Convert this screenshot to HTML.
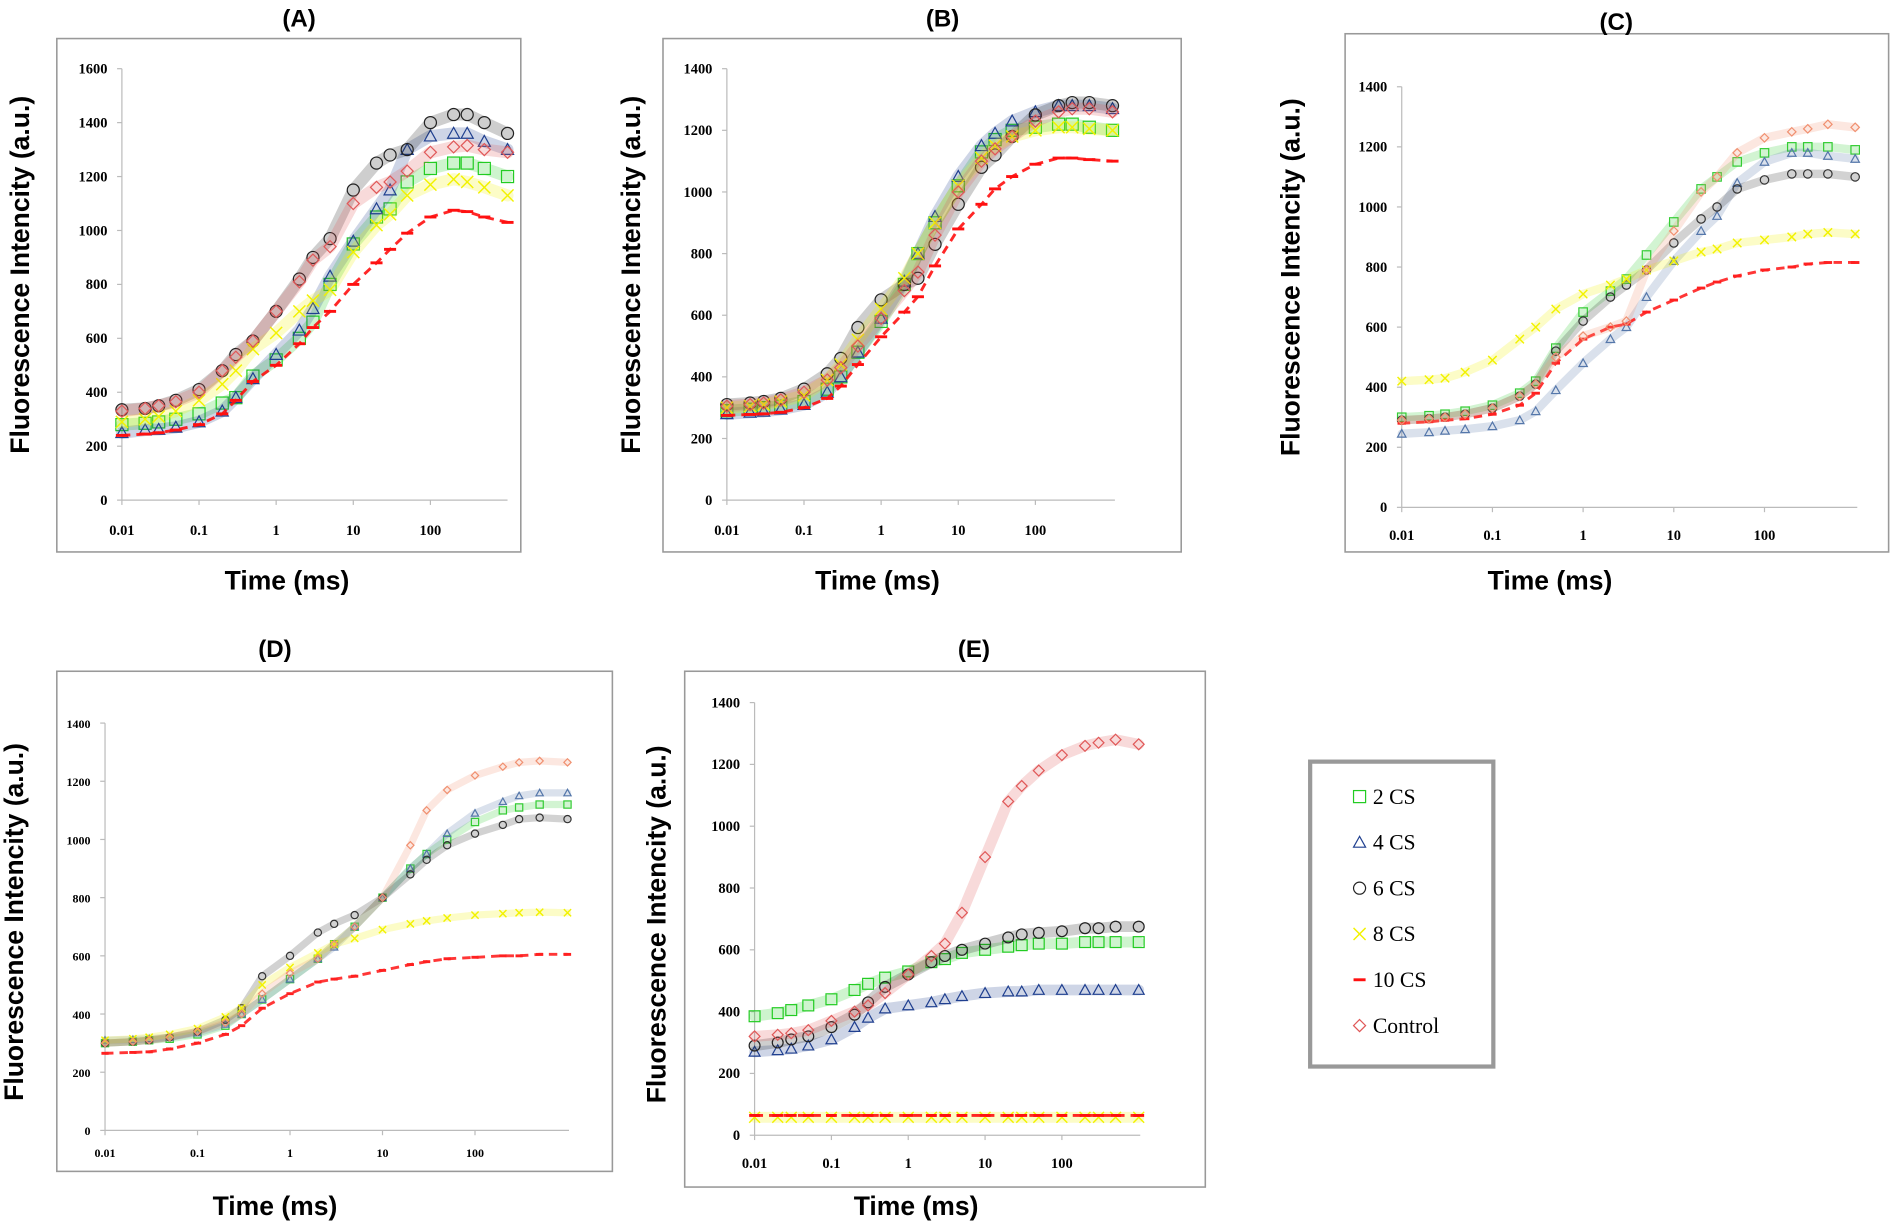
<!DOCTYPE html>
<html><head><meta charset="utf-8"><style>
html,body{margin:0;padding:0;background:#fff;}
svg{display:block;}
</style></head><body>
<svg id="fig" width="1890" height="1222" viewBox="0 0 1568 1014" xmlns="http://www.w3.org/2000/svg"></svg>
<script>
// shared sample times (ms)
const times = [0.01,0.02,0.03,0.05,0.1,0.2,0.3,0.5,1,2,3,5,10,20,30,50,100,200,300,500,1000];
const xTickLabels = ["0.01","0.1","1","10","100"];
const xTickValues = [0.01,0.1,1,10,100];
const seriesNames = ["2 CS","4 CS","6 CS","8 CS","10 CS","Control"];

// Panel A
const A_cs2 = [280,285,290,300,320,360,380,460,520,600,660,800,950,1050,1080,1180,1230,1250,1250,1230,1200];
const A_cs4 = [250,260,262,270,290,330,380,450,540,630,710,830,960,1080,1150,1300,1350,1360,1360,1330,1300];
const A_cs6 = [335,340,350,370,410,480,540,590,700,820,900,970,1150,1250,1280,1300,1400,1430,1430,1400,1360];
const A_cs8 = [290,300,310,330,370,430,480,560,620,700,740,780,920,1020,1060,1130,1170,1190,1180,1160,1130];
const A_cs10 = [240,245,250,260,280,320,370,440,500,580,640,700,800,880,930,990,1050,1075,1070,1050,1030];
const A_ctrl = [330,340,350,365,400,480,530,590,700,810,890,940,1100,1160,1180,1220,1290,1310,1315,1300,1290];
const A_yTicks = [0,200,400,600,800,1000,1200,1400,1600];
// Panel B
const B_cs2 = [290,295,300,305,320,360,400,480,580,700,800,900,1020,1130,1170,1200,1210,1220,1220,1210,1200];
const B_cs4 = [280,285,288,295,310,350,400,480,590,710,800,920,1050,1150,1190,1230,1260,1280,1280,1280,1270];
const B_cs6 = [310,315,320,330,360,410,460,560,650,700,720,830,960,1080,1120,1180,1250,1280,1290,1290,1280];
const B_cs8 = [300,305,310,320,340,390,440,520,620,720,800,900,1020,1110,1150,1180,1200,1210,1210,1205,1200];
const B_cs10 = [275,278,280,285,300,330,370,440,530,610,660,760,880,960,1010,1050,1090,1110,1110,1105,1100];
const B_ctrl = [305,310,315,325,350,390,430,500,590,680,740,860,1000,1100,1140,1180,1230,1260,1270,1270,1260];
const B_yTicks = [0,200,400,600,800,1000,1200,1400];
// Panel C
const C_cs2 = [300,305,310,320,340,380,420,530,650,720,760,840,950,1060,1100,1150,1180,1200,1200,1200,1190];
const C_cs4 = [245,250,255,260,270,290,320,390,480,560,600,700,820,920,970,1080,1150,1180,1180,1170,1160];
const C_cs6 = [290,295,300,310,330,370,410,520,620,700,740,790,880,960,1000,1060,1090,1110,1110,1110,1100];
const C_cs8 = [420,425,430,450,490,560,600,660,710,740,760,790,820,850,860,880,890,900,910,915,910];
const C_cs10 = [280,285,290,295,310,340,380,480,560,600,610,650,690,730,750,770,790,800,810,815,815];
const C_ctrl = [290,295,300,310,330,370,410,500,570,600,620,790,920,1050,1100,1180,1230,1250,1260,1275,1265];
const C_yTicks = [0,200,400,600,800,1000,1200,1400];
// Panel D
const D_cs2 = [300,305,310,315,330,360,400,450,520,590,640,700,800,900,950,1000,1060,1100,1110,1120,1120];
const D_cs4 = [310,312,315,320,335,365,400,450,520,590,630,700,800,900,950,1020,1090,1130,1150,1160,1160];
const D_cs6 = [300,305,310,320,340,380,420,530,600,680,710,740,800,880,930,980,1020,1050,1070,1075,1070];
const D_cs8 = [310,315,320,330,350,390,420,500,560,610,640,660,690,710,720,730,740,745,748,750,748];
const D_cs10 = [265,268,270,280,300,330,360,420,470,510,520,530,550,570,580,590,595,600,600,605,605];
const D_ctrl = [300,305,310,320,340,370,400,470,540,590,640,700,800,980,1100,1170,1220,1250,1265,1270,1265];
const D_yTicks = [0,200,400,600,800,1000,1200,1400];
// Panel E
const E_cs2 = [385,395,405,420,440,470,490,510,530,560,570,590,600,610,615,620,620,625,625,625,625];
const E_cs4 = [270,275,280,290,310,350,380,410,420,430,440,450,460,465,465,470,470,470,470,470,470];
const E_cs6 = [290,300,310,320,350,390,430,480,520,560,580,600,620,640,650,655,660,670,670,675,675];
const E_cs8 = [58,58,58,58,58,58,58,58,58,58,58,58,58,58,58,58,58,58,58,58,58];
const E_cs10 = [64,64,64,64,64,64,64,64,64,64,64,64,64,64,64,64,64,64,64,64,64];
const E_ctrl = [320,325,330,340,370,400,420,460,520,580,620,720,900,1080,1130,1180,1230,1260,1270,1280,1265];
const E_yTicks = [0,200,400,600,800,1000,1200,1400];

const NS='http://www.w3.org/2000/svg';
const svg=document.getElementById('fig');
function mk(tag,attrs,parent){const e=document.createElementNS(NS,tag);for(const k in attrs)e.setAttribute(k,attrs[k]);(parent||svg).appendChild(e);return e;}
function txt(s,attrs,parent){const e=mk('text',attrs,parent);e.textContent=s;return e;}

function marker(g,kind,cx,cy,r,col){
  let e;
  if(kind===0){e=mk('rect',{x:cx-r,y:cy-r,width:2*r,height:2*r,fill:'none',stroke:col,'stroke-width':1},g);}
  else if(kind===1){e=mk('polygon',{points:`${cx},${cy-r} ${cx-r},${cy+r*0.8} ${cx+r},${cy+r*0.8}`,fill:'none',stroke:col,'stroke-width':1},g);}
  else if(kind===2){e=mk('circle',{cx:cx,cy:cy,r:r,fill:'none',stroke:col,'stroke-width':1},g);}
  else if(kind===3){e=mk('path',{d:`M${cx-r} ${cy-r}L${cx+r} ${cy+r}M${cx-r} ${cy+r}L${cx+r} ${cy-r}`,stroke:col,'stroke-width':1.2},g);}
  else if(kind===4){e=mk('rect',{x:cx-r,y:cy-1.2,width:2*r,height:2.4,fill:col},g);}
  else {e=mk('polygon',{points:`${cx},${cy-r} ${cx+r},${cy} ${cx},${cy+r} ${cx-r},${cy}`,fill:'none',stroke:col,'stroke-width':1},g);}
  
  
}

function panel(p){
  const g=mk('g',{});
  
  
  const box=mk('rect',{x:p.box[0],y:p.box[1],width:p.box[2]-p.box[0],height:p.box[3]-p.box[1],fill:'#fff',stroke:'#999','stroke-width':1.3},g);
  
  
  const t=txt('('+p.id+')',{x:p.title[0],y:p.title[1],'text-anchor':'middle','font-family':'Liberation Sans, sans-serif','font-weight':'bold','font-size':20},g);
  
  
  const xs=v=>p.x0+(Math.log10(v)+2)*p.dec;
  const ys=v=>p.yb-(v/p.ymax)*(p.yb-p.yt);
  const xr=p.xr;
  mk('line',{x1:p.x0,y1:p.yt,x2:p.x0,y2:p.yb,stroke:'#bbb','stroke-width':1},g);
  mk('line',{x1:p.x0,y1:p.yb,x2:xr,y2:p.yb,stroke:'#bbb','stroke-width':1},g);
  p.yTicks.forEach(v=>{
    mk('line',{x1:p.x0-4,y1:ys(v),x2:p.x0,y2:ys(v),stroke:'#bbb'},g);
    const l=txt(String(v),{x:p.x0-12,y:ys(v)+4,'text-anchor':'end','font-family':'Liberation Serif, serif','font-weight':'bold','font-size':p.fs},g);
    
    
  });
  xTickValues.forEach((v,i)=>{
    mk('line',{x1:xs(v),y1:p.yb,x2:xs(v),y2:p.yb+4,stroke:'#bbb'},g);
    const l=txt(xTickLabels[i],{x:xs(v),y:p.yb+p.xlo,'text-anchor':'middle','font-family':'Liberation Serif, serif','font-weight':'bold','font-size':p.fs},g);
    
    
  });
  const xl=txt('Time (ms)',{x:p.xlab[0],y:p.xlab[1],'text-anchor':'middle','font-family':'Liberation Sans, sans-serif','font-weight':'bold','font-size':22},g);
  
  
  const yl=txt('Fluorescence Intencity (a.u.)',{x:0,y:0,transform:`translate(${p.ylab[0]},${p.ylab[1]}) rotate(-90)`,'text-anchor':'middle','font-family':'Liberation Sans, sans-serif','font-weight':'bold','font-size':22},g);
  
  
  p.series.forEach((s,k)=>{
    const sg=mk('g',{},g);
    
    
    const pts=s.map((v,i)=>xs(times[i]).toFixed(1)+','+ys(v).toFixed(1)).join(' ');
    const attrs={points:pts,fill:'none',stroke:p.cols[k],'stroke-width':k===4?2.4:p.r*2,'stroke-opacity':k===4?0.9:0.22,'stroke-linejoin':'round','stroke-linecap':'round'};
    if(k===4){attrs['stroke-dasharray']='7,5';attrs['stroke-linecap']='butt';}
    const band=mk('polyline',attrs,sg);
    
    
    s.forEach((v,i)=>marker(sg,k,xs(times[i]),ys(v),p.r,p.cols[k]));
  });
}
const colsDark=['#22cc22','#1f3f8f','#222','#f2f200','#ff1010','#e05858'];
const colsLight=['#33cc33','#5577aa','#333','#f2f200','#ff2020','#f09070'];
panel({id:'A',box:[47,32,432,458],title:[248,22],x0:101,dec:64,xr:421,yt:57,yb:415,ymax:1600,yTicks:A_yTicks,xlo:29,fs:12,xlab:[238,489],ylab:[24,228],r:5,cols:colsDark,series:[A_cs2,A_cs4,A_cs6,A_cs8,A_cs10,A_ctrl]});
panel({id:'B',box:[550,32,980,458],title:[782,22],x0:603,dec:64,xr:925,yt:57,yb:415,ymax:1400,yTicks:B_yTicks,xlo:29,fs:12,xlab:[728,489],ylab:[531,228],r:5,cols:colsDark,series:[B_cs2,B_cs4,B_cs6,B_cs8,B_cs10,B_ctrl]});
panel({id:'C',box:[1116,28,1567,458],title:[1341,25],x0:1163,dec:75.25,xr:1541,yt:72,yb:421,ymax:1400,yTicks:C_yTicks,xlo:27,fs:12,xlab:[1286,489],ylab:[1078,230],r:3.5,cols:colsLight,series:[C_cs2,C_cs4,C_cs6,C_cs8,C_cs10,C_ctrl]});
panel({id:'D',box:[47,557,508,972],title:[228,545],x0:87,dec:76.75,xr:472,yt:600,yb:938,ymax:1400,yTicks:D_yTicks,xlo:22,fs:10,xlab:[228,1008],ylab:[19,765],r:3,cols:colsLight,series:[D_cs2,D_cs4,D_cs6,D_cs8,D_cs10,D_ctrl]});
panel({id:'E',box:[568,557,1000,985],title:[808,545],x0:626,dec:63.75,xr:946,yt:583,yb:942,ymax:1400,yTicks:E_yTicks,xlo:27,fs:12,xlab:[760,1008],ylab:[552,767],r:4.5,cols:colsDark,series:[E_cs2,E_cs4,E_cs6,E_cs8,E_cs10,E_ctrl]});

// legend
const lg=mk('g',{});


mk('rect',{x:1087,y:632,width:152,height:253,fill:'#fff',stroke:'#999','stroke-width':3.5},lg);
seriesNames.forEach((n,k)=>{
  const y=661+k*38;
  const eg=mk('g',{},lg);
  
  
  marker(eg,k,1128,y,5,colsDark[k]);
  txt(n,{x:1139,y:y+6,'font-family':'Liberation Serif, serif','font-size':18},eg);
});
</script>
</body></html>
